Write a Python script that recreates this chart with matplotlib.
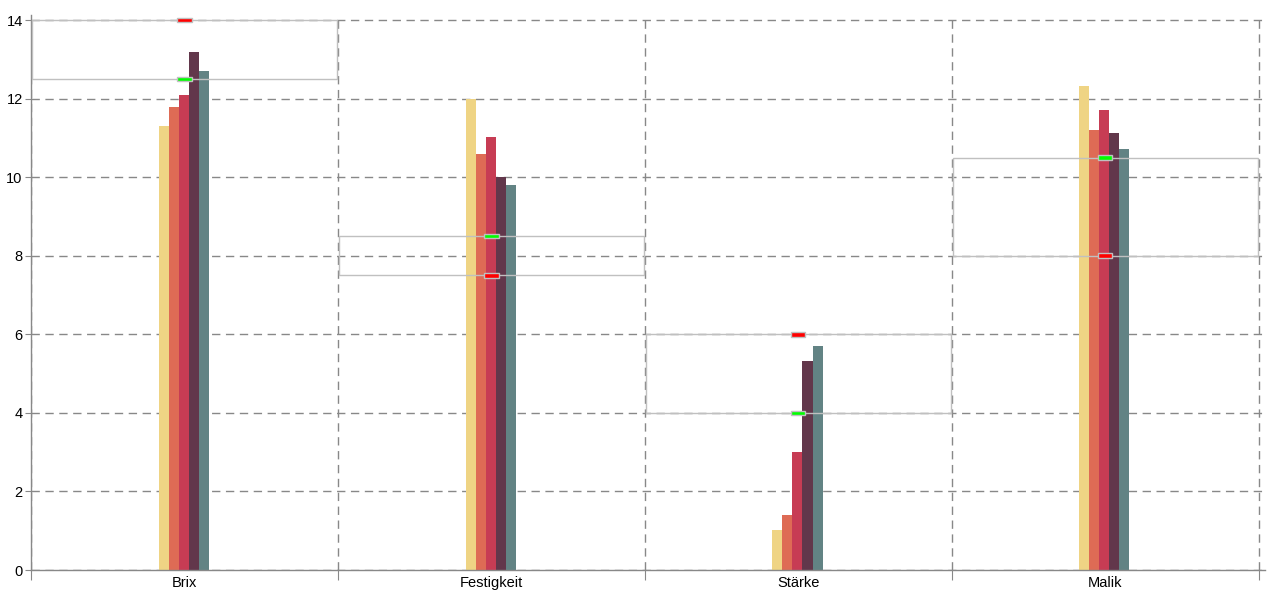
import matplotlib
matplotlib.use("Agg")
import matplotlib.pyplot as plt
import numpy as np

categories = ["Brix", "Festigkeit", "Stärke", "Malik"]
series1 = [11.3, 12.0, 1.02, 12.32]
series2 = [11.8, 10.6, 1.4, 11.2]
series3 = [12.1, 11.02, 3.0, 11.7]
series4 = [13.2, 10.0, 5.32, 11.12]
series5 = [12.7, 9.8, 5.7, 10.72]
green_vals = [12.5, 8.5, 4.0, 10.5]
red_vals = [14.0, 7.5, 6.0, 8.0]
y_ticks = [0, 2, 4, 6, 8, 10, 12, 14]

colors = ["#EFD484", "#DE6B55", "#C73C54", "#62374B", "#628384"]

plt.rcParams['font.family'] = ['Liberation Sans', 'DejaVu Sans']

fig = plt.figure(figsize=(12.8, 6.0), dpi=100)
ax = fig.add_axes([31/1280, 30/600, 1234/1280, (570-15)/600])

x = np.arange(len(categories))
w = 0.0326
all_series = [series1, series2, series3, series4, series5]
for i, (s, c) in enumerate(zip(all_series, colors)):
    ax.bar(x - 0.003 + (i - 2) * w, s, width=w, color=c, linewidth=0, zorder=2)

lo = np.minimum(green_vals, red_vals)
hi = np.maximum(green_vals, red_vals)
ax.bar(x, hi - lo, bottom=lo, width=0.995, fill=False, edgecolor="#c0c0c0",
       linewidth=1.0, zorder=3)

mh = 0.12
mw = 0.046
ax.bar(x, [mh]*4, bottom=np.array(green_vals) - mh/2, width=mw, color="#00FF00",
       edgecolor="#c0c0c0", linewidth=1.0, zorder=4)
ax.bar(x, [mh]*4, bottom=np.array(red_vals) - mh/2, width=mw, color="#FF0000",
       edgecolor="#c0c0c0", linewidth=1.0, zorder=4)

ax.set_xlim(-0.5, 3.52)
ax.set_ylim(0, 14.13)

ax.set_yticks(y_ticks)
ax.set_yticklabels([str(t) for t in y_ticks], fontsize=10.5)
ax.set_xticks(np.arange(len(categories) + 1) - 0.5)
ax.set_xticklabels([])
ax.set_xticks(x, minor=True)
ax.set_xticklabels(categories, minor=True, fontsize=10.5)
ax.tick_params(axis='x', which='major', length=7, color="#888888", direction='out')
ax.tick_params(axis='x', which='minor', length=0, pad=4)
ax.tick_params(axis='y', length=4, color="#888888", pad=2)

ax.grid(True, which='major', axis='both', color="#888888", linestyle=(0, (6, 4)),
        linewidth=1.0, zorder=0)
ax.set_axisbelow(True)

for sp in ["top", "right"]:
    ax.spines[sp].set_visible(False)
for sp in ["left", "bottom"]:
    ax.spines[sp].set_color("#888888")
    ax.spines[sp].set_linewidth(1.0)

fig.savefig("out.png", dpi=100)
